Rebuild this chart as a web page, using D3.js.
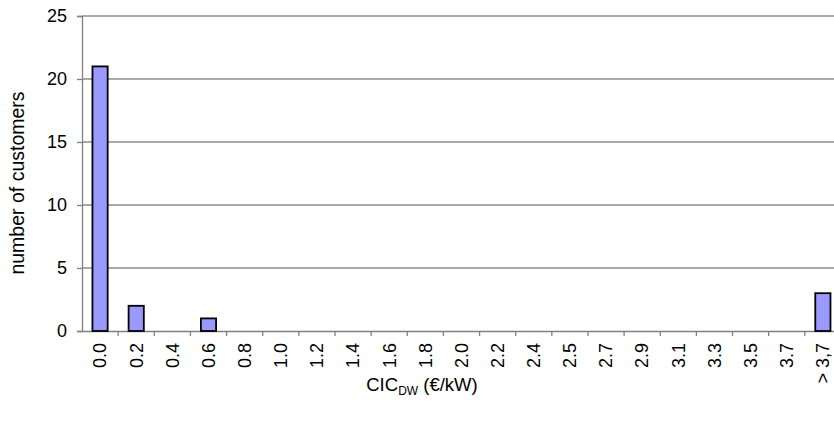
<!DOCTYPE html>
<html><head><meta charset="utf-8">
<script src="https://cdn.jsdelivr.net/npm/d3@7"></script>
<style>body{margin:0;background:#fff;overflow:hidden}svg{display:block}text{font-family:"Liberation Sans",Arial,sans-serif;fill:#000}</style>
</head><body>
<script>
const categories = ["0.0","0.2","0.4","0.6","0.8","1.0","1.2","1.4","1.6","1.8","2.0","2.2","2.4","2.5","2.7","2.9","3.1","3.3","3.5","3.7","> 3,7"];
const counts = [21,2,0,1,0,0,0,0,0,0,0,0,0,0,0,0,0,0,0,0,3];
const yTicks = [0,5,10,15,20,25];

(function(){
const W = 834, H = 426;
const mLeft = 82, mTop = 16, mBottom = 331, catW = 36.14;
const svg = d3.select("body").append("svg").attr("width", W).attr("height", H);

const x = d3.scaleBand().domain(categories).range([mLeft, mLeft + catW * categories.length]).paddingInner(0).paddingOuter(0);
const y = d3.scaleLinear().domain([0, 25]).range([mBottom, mTop]);

// gridlines
svg.append("g").selectAll("line").data(yTicks.filter(d => d > 0)).join("line")
  .attr("x1", mLeft).attr("x2", x.range()[1])
  .attr("y1", d => y(d)).attr("y2", d => y(d))
  .attr("stroke", "#8c8c8c").attr("stroke-width", 1.3);

// y axis
const ya = svg.append("g").attr("transform", `translate(${mLeft},0)`)
  .call(d3.axisLeft(y).tickValues(yTicks).tickSize(5).tickPadding(10).tickFormat(d3.format("d")));
ya.select(".domain").attr("stroke", "#808080").attr("stroke-width", 1.3);
ya.selectAll(".tick line").attr("stroke", "#808080").attr("stroke-width", 1.3);
ya.selectAll("text").style("font-size", "18px").attr("font-family", "Liberation Sans, Arial, sans-serif");

// x axis
const xa = svg.append("g").attr("transform", `translate(0,${mBottom})`)
  .call(d3.axisBottom(x).tickSize(0).tickSizeOuter(0));
xa.select(".domain").attr("stroke", "#808080").attr("stroke-width", 1.3);
xa.selectAll(".tick text")
  .attr("transform", "rotate(-90)")
  .attr("x", -12).attr("y", 0).attr("dy", "0.35em")
  .style("text-anchor", "end").style("font-size", "18px")
  .attr("font-family", "Liberation Sans, Arial, sans-serif");
// category separator ticks
svg.append("g").selectAll("line").data(categories.slice(1)).join("line")
  .attr("x1", d => x(d)).attr("x2", d => x(d))
  .attr("y1", mBottom).attr("y2", mBottom + 5)
  .attr("stroke", "#808080").attr("stroke-width", 1.3);

// bars
const bw = 15.2;
svg.append("g").selectAll("rect").data(categories.map((c, i) => ({c, v: counts[i]})).filter(d => d.v > 0)).join("rect")
  .attr("x", d => x(d.c) + x.bandwidth() / 2 - bw / 2)
  .attr("width", bw)
  .attr("y", d => y(d.v))
  .attr("height", d => y(0) - y(d.v))
  .attr("fill", "#9999ff").attr("stroke", "#000").attr("stroke-width", 1.8);

// y title
svg.append("text").attr("transform", "translate(24,183) rotate(-90)")
  .attr("text-anchor", "middle").style("font-size", "19.5px").text("number of customers");

// x title
const xt = svg.append("text").attr("x", 422).attr("y", 391).attr("text-anchor", "middle").style("font-size", "18.5px");
xt.append("tspan").text("CIC");
xt.append("tspan").attr("dy", 4).style("font-size", "12px").text("DW");
xt.append("tspan").attr("dy", -4).text(" (€/kW)");
})();
</script>
</body></html>
